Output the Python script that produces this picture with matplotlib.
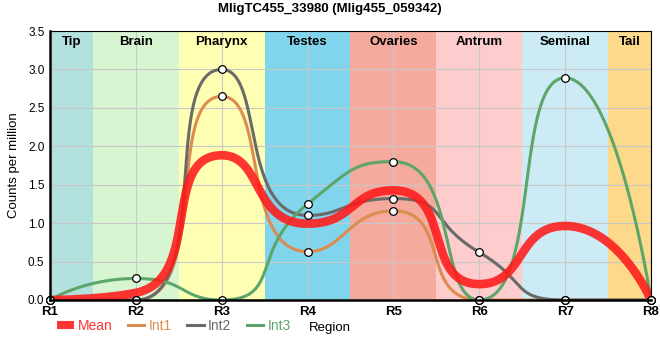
import numpy as np
import matplotlib
matplotlib.use('Agg')
import matplotlib.pyplot as plt
from matplotlib.lines import Line2D

plt.rcParams['font.family'] = ['Liberation Sans', 'DejaVu Sans']

# data
regions = ['R1', 'R2', 'R3', 'R4', 'R5', 'R6', 'R7', 'R8']
int1 = [0, 0, 2.65, 0.63, 1.16, 0, 0, 0]
int2 = [0, 0, 3.00, 1.10, 1.32, 0.62, 0, 0]
int3 = [0, 0.28, 0, 1.25, 1.80, 0, 2.89, 0]
mean = list(np.mean([int1, int2, int3], axis=0))

tissues = ['Tip', 'Brain', 'Pharynx', 'Testes', 'Ovaries', 'Antrum', 'Seminal', 'Tail']
tissue_spans = [(0, 0.5), (0.5, 1.5), (1.5, 2.5), (2.5, 3.5), (3.5, 4.5), (4.5, 5.5), (5.5, 6.5), (6.5, 7)]
tissue_colors = ['#b3e1dd', '#d8f5d2', '#ffffb4', '#80d4eb', '#f4ab9d', '#fdcccc', '#cdebf4', '#fdd98b']


def smooth_curve(ax, xs, ys, smooth=0.6, n=60):
    # smoothed line (bezier, handles from neighbours), computed in pixel space
    pts = ax.transData.transform(np.column_stack([xs, ys]))
    m = len(pts)
    segs = []
    cp0 = pts[0].copy()
    for i in range(1, m):
        x, y = pts[i]
        px, py = pts[i - 1]
        if i == m - 1:
            cp1 = np.array([x, y])
            ncp0 = None
        else:
            nx, ny = pts[i + 1]
            vx, vy = nx - px, ny - py
            lp = np.hypot(x - px, y - py)
            ln = np.hypot(nx - x, ny - y)
            r = ln / (ln + lp)
            ncx = x + vx * smooth * r
            ncy = y + vy * smooth * r
            ncx = max(min(ncx, max(nx, x)), min(nx, x))
            ncy = max(min(ncy, max(ny, y)), min(ny, y))
            vx, vy = ncx - x, ncy - y
            c1x = x - vx * lp / ln
            c1y = y - vy * lp / ln
            c1x = max(min(c1x, max(px, x)), min(px, x))
            c1y = max(min(c1y, max(py, y)), min(py, y))
            vx, vy = x - c1x, y - c1y
            ncp0 = np.array([x + vx * ln / lp, y + vy * ln / lp])
            cp1 = np.array([c1x, c1y])
        t = np.linspace(0, 1, n)[:, None]
        p0, p3 = pts[i - 1], pts[i]
        seg = (1 - t) ** 3 * p0 + 3 * (1 - t) ** 2 * t * cp0 + 3 * (1 - t) * t ** 2 * cp1 + t ** 3 * p3
        segs.append(seg if i == 1 else seg[1:])
        cp0 = ncp0
    out = ax.transData.inverted().transform(np.vstack(segs))
    return out[:, 0], out[:, 1]


fig = plt.figure(figsize=(6.6, 3.6), dpi=100)
ax = fig.add_axes([50 / 660, 60 / 360, 601 / 660, 269 / 360])
ax.set_xlim(0, 7)
ax.set_ylim(0, 3.5)

x = np.arange(len(regions))
for (a, b), c, name in zip(tissue_spans, tissue_colors, tissues):
    ax.axvspan(a, b, color=c, zorder=0.1, lw=0)
    ax.text((a + b) / 2, 3.43, name, ha='center', va='top', fontsize=9.5,
            fontweight='bold', zorder=1)

series = [('Int1', int1, '#dd8c4f'), ('Int2', int2, '#6a6a6a'), ('Int3', int3, '#5da56a')]
for name, vals, col in series:
    sx, sy = smooth_curve(ax, x, vals)
    ax.plot(sx, sy, color=col, lw=2.2, zorder=3, solid_capstyle='round')
    ax.plot(x, vals, 'o', ms=5.5, mfc='white', mec='black', mew=0.9, zorder=6, clip_on=False)

sx, sy = smooth_curve(ax, x, mean)
ax.plot(sx, sy, color='#ff1a1a', alpha=0.88, lw=6.2, zorder=5, solid_capstyle='butt')

ax.set_xticks(x)
ax.set_xticklabels(regions, fontsize=9.5, fontweight='bold')
ax.set_yticks(np.arange(0, 3.51, 0.5))
ax.set_yticklabels([f'{v:.1f}' for v in np.arange(0, 3.51, 0.5)], fontsize=8.5)
ax.tick_params(length=0, pad=4)
ax.grid(True, color='#c8c8c8', lw=0.8)
ax.set_axisbelow(True)
for side in ['top', 'right']:
    ax.spines[side].set_linewidth(0.8)
for side in ['left', 'bottom']:
    ax.spines[side].set_linewidth(1.8)
    ax.spines[side].set_zorder(7)

ax.set_ylabel('Counts per million', fontsize=9.5, labelpad=6)
fig.text(330 / 660, 1 - 328 / 360, 'Region', ha='center', va='center', fontsize=9.5)
fig.text(330 / 660, 1 - 9 / 360, 'MligTC455_33980 (Mlig455_059342)', ha='center', va='center',
         fontsize=9.5, fontweight='bold')

handles = [Line2D([], [], color='#ff1a1a', alpha=0.88, lw=5.8, solid_capstyle='butt')]
handles += [Line2D([], [], color=c, lw=2.2) for _, _, c in series]
labels = ['Mean'] + [s[0] for s in series]
leg = fig.legend(handles, labels, loc='center left', bbox_to_anchor=(50 / 660, 1 - 326 / 360),
                 ncol=4, frameon=False, fontsize=10, handlelength=1.2, handletextpad=0.3,
                 columnspacing=1.1, borderpad=0)
for txt, c in zip(leg.get_texts(), ['#ff3333', '#dd8c4f', '#6a6a6a', '#5da56a']):
    txt.set_color(c)

plt.savefig('out.png', dpi=100)
